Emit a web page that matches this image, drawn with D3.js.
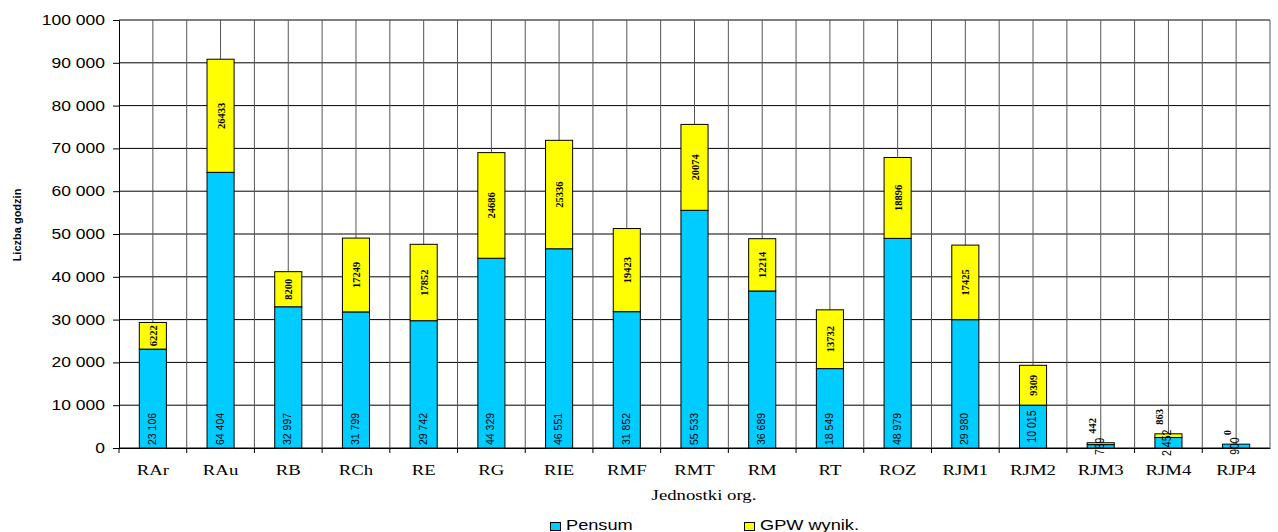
<!DOCTYPE html>
<html>
<head>
<meta charset="utf-8">
<script src="https://cdn.jsdelivr.net/npm/d3@7"></script>
<style>
  body { margin: 0; background: #fff; }
</style>
</head>
<body>
<div id="chart"></div>
<script>
const categories = ["RAr", "RAu", "RB", "RCh", "RE", "RG", "RIE", "RMF", "RMT", "RM", "RT", "ROZ", "RJM1", "RJM2", "RJM3", "RJM4", "RJP4"];
const pensum = [23106, 64404, 32997, 31799, 29742, 44329, 46551, 31852, 55533, 36689, 18549, 48979, 29980, 10015, 789, 2452, 900];
const gpw = [6222, 26433, 8200, 17249, 17852, 24686, 25336, 19423, 20074, 12214, 13732, 18896, 17425, 9309, 442, 863, 0];
const yTicks = [0, 10000, 20000, 30000, 40000, 50000, 60000, 70000, 80000, 90000, 100000];

const width = 1278, height = 532;
const m = { left: 119, right: 8, top: 20, bottom: 84 };
const sx = 1.25; // the original is a bit stretched sideways

const pl = d3.formatLocale({ decimal: ",", thousands: " ", grouping: [3], currency: ["", ""] });
const fmt = pl.format(",d");

const svg = d3.select("#chart").append("svg")
    .attr("width", width)
    .attr("height", height);

const x = d3.scaleBand()
    .domain(categories)
    .range([m.left, width - m.right]);

const y = d3.scaleLinear()
    .domain([0, 100000])
    .range([height - m.bottom, m.top]);

const bw = x.bandwidth() * 0.4;

// grid
svg.append("g").selectAll("line")
    .data(yTicks)
    .enter().append("line")
    .attr("x1", m.left).attr("x2", width - m.right)
    .attr("y1", d => y(d)).attr("y2", d => y(d))
    .attr("stroke", "#000").attr("stroke-width", 1);

const vlines = [];
categories.forEach(c => { vlines.push(x(c) + x.bandwidth() / 2); vlines.push(x(c) + x.bandwidth()); });
svg.append("g").selectAll("line")
    .data(vlines)
    .enter().append("line")
    .attr("x1", d => d).attr("x2", d => d)
    .attr("y1", y(100000)).attr("y2", y(0))
    .attr("stroke", "#555").attr("stroke-width", 1);

// axes
const yAxis = svg.append("g")
    .attr("transform", `translate(${m.left},0)`)
    .call(d3.axisLeft(y).tickValues(yTicks).tickFormat(fmt).tickSize(6).tickPadding(8));
yAxis.select(".domain").attr("stroke", "#000");
yAxis.selectAll(".tick line").attr("stroke", "#000");
yAxis.selectAll("text")
    .attr("font-family", "Liberation Sans, Arial").attr("font-size", 14).attr("fill", "#000")
    .attr("x", -14 / sx)
    .attr("transform", `scale(${sx},1)`);

const xAxis = svg.append("g")
    .attr("transform", `translate(0,${y(0)})`)
    .call(d3.axisBottom(x).tickSize(0).tickPadding(16));
xAxis.select(".domain").attr("stroke", "#000");
xAxis.selectAll("text")
    .attr("font-family", "Liberation Serif, Times New Roman").attr("font-size", 15).attr("fill", "#000")
    .attr("transform", `scale(${sx},1)`);

svg.append("g").selectAll("line")
    .data(categories)
    .enter().append("line")
    .attr("x1", d => x(d)).attr("x2", d => x(d))
    .attr("y1", y(0)).attr("y2", y(0) + 5)
    .attr("stroke", "#000");

// bars
const bars = svg.append("g");
bars.selectAll("rect.p")
    .data(categories)
    .enter().append("rect")
    .attr("class", "p")
    .attr("x", d => x(d) + (x.bandwidth() - bw) / 2)
    .attr("width", bw)
    .attr("y", (d, i) => y(pensum[i]))
    .attr("height", (d, i) => y(0) - y(pensum[i]))
    .attr("fill", "#00CCFF")
    .attr("stroke", "#000").attr("stroke-width", 1);

bars.selectAll("rect.g")
    .data(categories)
    .enter().append("rect")
    .attr("class", "g")
    .attr("x", d => x(d) + (x.bandwidth() - bw) / 2)
    .attr("width", bw)
    .attr("y", (d, i) => y(pensum[i] + gpw[i]))
    .attr("height", (d, i) => y(pensum[i]) - y(pensum[i] + gpw[i]))
    .attr("fill", "#FFFF00")
    .attr("stroke", "#000").attr("stroke-width", 1)
    .style("display", (d, i) => gpw[i] > 0 ? null : "none");

// pensum labels
svg.append("g").selectAll("text")
    .data(categories)
    .enter().append("text")
    .attr("transform", (d, i) => {
        const cx = x(d) + x.bandwidth() / 2 + 3;
        const h = y(0) - y(pensum[i]);
        if (h > 44) return `translate(${cx},${y(0) - 3}) rotate(-90)`;
        return `translate(${cx},${y(pensum[i] / 2)}) rotate(-90) scale(1,${sx})`;
    })
    .attr("text-anchor", (d, i) => (y(0) - y(pensum[i]) > 44) ? "start" : "middle")
    .attr("font-family", "Liberation Sans, Arial")
    .attr("font-size", 10.5)
    .attr("fill", "#000")
    .text((d, i) => fmt(pensum[i]));

// gpw labels
svg.append("g").selectAll("text")
    .data(categories)
    .enter().append("text")
    .attr("transform", (d, i) => {
        const h = y(pensum[i]) - y(pensum[i] + gpw[i]);
        const cx = x(d) + x.bandwidth() / 2 + 4;
        if (h > 20) return `translate(${cx},${y(pensum[i] + gpw[i] / 2)}) rotate(-90)`;
        return `translate(${cx - 9},${y(pensum[i] + gpw[i]) - 9}) rotate(-90)`;
    })
    .attr("text-anchor", (d, i) => (y(pensum[i]) - y(pensum[i] + gpw[i]) > 20) ? "middle" : "start")
    .attr("font-family", "Liberation Serif, Times New Roman")
    .attr("font-weight", "bold")
    .attr("font-size", 10.5)
    .attr("fill", "#000")
    .text((d, i) => gpw[i]);

// axis titles
svg.append("text")
    .attr("transform", `translate(21,225) rotate(-90)`)
    .attr("text-anchor", "middle")
    .attr("font-family", "Liberation Sans, Arial")
    .attr("font-weight", "bold")
    .attr("font-size", 11)
    .text("Liczba godzin");

svg.append("text")
    .attr("transform", `translate(704,500) scale(${sx},1)`)
    .attr("text-anchor", "middle")
    .attr("font-family", "Liberation Serif, Times New Roman")
    .attr("font-size", 15)
    .text("Jednostki org.");

// legend
const legend = [
    { name: "Pensum", color: "#00CCFF", x: 550 },
    { name: "GPW wynik.", color: "#FFFF00", x: 744 }
];
const lg = svg.append("g").selectAll("g")
    .data(legend)
    .enter().append("g")
    .attr("transform", d => `translate(${d.x},530)`);
lg.append("rect")
    .attr("x", 0.5).attr("y", -7.5)
    .attr("width", 10).attr("height", 8)
    .attr("fill", d => d.color)
    .attr("stroke", "#000");
lg.append("text")
    .attr("transform", `translate(16,0) scale(1.3,1)`)
    .attr("font-family", "Liberation Sans, Arial")
    .attr("font-size", 14)
    .text(d => d.name);
</script>
</body>
</html>
